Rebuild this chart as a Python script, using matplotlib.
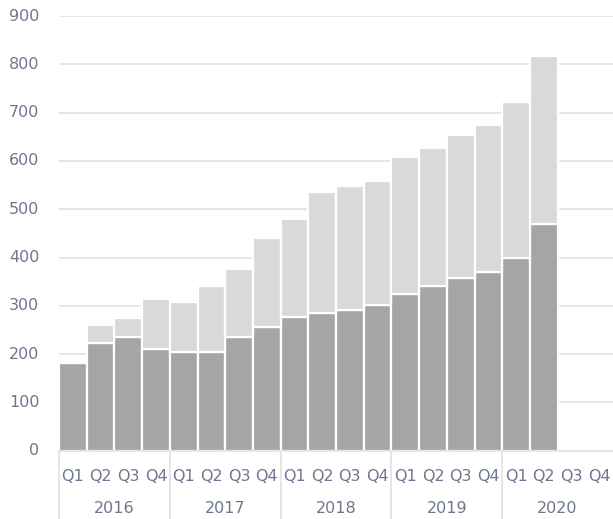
import numpy as np
import matplotlib
matplotlib.use('Agg')
import matplotlib.pyplot as plt
import matplotlib.transforms as mtransforms

years = ['2016', '2017', '2018', '2019', '2020']
quarters = ['Q1', 'Q2', 'Q3', 'Q4']

# lower (dark) segment and bar totals, per quarter; 2020 Q3/Q4 have no data
dark = [182, 222, 236, 211,
        204, 204, 236, 257,
        277, 286, 291, 302,
        324, 342, 357, 371,
        398, 469]
total = [182, 260, 274, 314,
         307, 340, 376, 440,
         480, 536, 549, 558,
         609, 626, 654, 674,
         722, 817]

text_col = '#6e7790'
grid_col = '#e2e2e2'

plt.rcParams['font.family'] = ['DejaVu Sans']

fig = plt.figure(figsize=(6.13, 5.19), dpi=100)
ax = fig.add_axes([59 / 613, 1 - 450.7 / 519, 1 - 59 / 613, (450.7 - 16) / 519])

n_cat = len(years) * len(quarters)
x = np.arange(len(dark))
light = np.array(total) - np.array(dark)

ax.bar(x, dark, width=1.0, color='#a5a5a5', edgecolor='white', linewidth=1.6, zorder=2)
ax.bar(x, light, bottom=dark, width=1.0, color='#d9d9d9', edgecolor='white', linewidth=1.6, zorder=2)

ax.set_xlim(-0.5, n_cat - 0.5)
ax.set_ylim(0, 900)
ax.set_yticks(np.arange(0, 901, 100))
ax.yaxis.grid(True, color=grid_col, linewidth=1.2, zorder=0)
ax.set_axisbelow(True)

ax.set_xticks(np.arange(n_cat))
ax.set_xticklabels(quarters * len(years))
ax.tick_params(axis='x', length=0, pad=13, labelsize=11.5, colors=text_col)
ax.tick_params(axis='y', length=0, pad=14, labelsize=11.5, colors=text_col)
for lbl in ax.get_yticklabels():
    lbl.set_verticalalignment('center')

for s in ['top', 'right', 'left']:
    ax.spines[s].set_visible(False)
ax.spines['bottom'].set_color(grid_col)
ax.spines['bottom'].set_linewidth(1.2)

trans = mtransforms.blended_transform_factory(ax.transData, ax.transAxes)
for i in range(len(years) + 1):
    xb = i * 4 - 0.5
    if xb >= n_cat - 0.5:
        continue
    ax.plot([xb, xb], [0, -0.16], color=grid_col, linewidth=1.2, transform=trans, clip_on=False)
for i, yr in enumerate(years):
    ax.text(i * 4 + 1.5, -0.133, yr, transform=trans, ha='center', va='center',
            fontsize=11.5, color=text_col)

fig.savefig('out.png', dpi=100)
